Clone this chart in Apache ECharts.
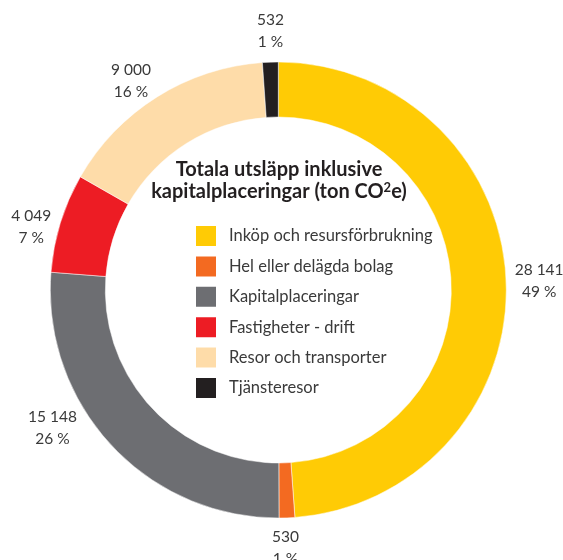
<!DOCTYPE html>
<html><head><meta charset="utf-8">
<script src="https://cdn.jsdelivr.net/npm/echarts@6/dist/echarts.min.js"></script>
<style>html,body{margin:0;padding:0;background:#fff}#c{width:563px;height:560px}</style>
</head><body><div id="c"></div>
<script>
const categories = ['Inköp och resursförbrukning', 'Hel eller delägda bolag', 'Kapitalplaceringar', 'Fastigheter - drift', 'Resor och transporter', 'Tjänsteresor'];
const values = [28141, 530, 15148, 4049, 9000, 532];
const colors = ['#FFCB05', '#F36A21', '#6D6E72', '#ED1C24', '#FEDCA9', '#231F20'];
// label placement tweaks (label line hidden)
const labelLen = [9, 30, -24.5, -13.6, 18.8, 31];
const labelLen2 = [0, -26.6, 52.7, 18.2, -7.9, -25.3];

const fmt = v => String(v).replace(/\B(?=(\d{3})+(?!\d))/g, ' ');
const FONT = 'Lato, "Open Sans", sans-serif';

const chart = echarts.init(document.getElementById('c'), null, {renderer: 'canvas'});
chart.setOption({
  animation: false,
  backgroundColor: '#fff',
  graphic: [{
    type: 'text',
    x: 279, y: 181,
    style: {
      text: '{t|Totala utsläpp inklusive}\n{t|kapitalplaceringar (ton CO}{s|2}{t|e)}',
      align: 'center', verticalAlign: 'middle',
      rich: {
        t: {fontFamily: FONT, fontSize: 20, fontWeight: 'bold', fill: '#231F20', color: '#231F20', lineHeight: 22},
        s: {fontFamily: FONT, fontSize: 13, fontWeight: 'bold', fill: '#231F20', color: '#231F20', lineHeight: 12, verticalAlign: 'top'}
      }
    }
  }],
  legend: {
    orient: 'vertical',
    left: 194, top: 224,
    padding: 0,
    itemWidth: 22, itemHeight: 22, itemGap: 6.4,
    icon: 'rect',
    selectedMode: false,
    textStyle: {fontFamily: FONT, fontSize: 16.5, lineHeight: 18, color: '#3a3a3a', padding: [4, 0, 0, 7]},
    data: categories
  },
  series: [{
    type: 'pie',
    center: [278.3, 290],
    radius: [173, 228],
    startAngle: 90,
    clockwise: true,
    minAngle: 4,
    avoidLabelOverlap: false,
    emphasis: {disabled: true},
    itemStyle: {borderColor: '#fff', borderWidth: 0.5},
    label: {
      show: true,
      position: 'outside',
      distanceToLabelLine: 0,
      formatter: p => '{a|' + fmt(p.value) + '}\n{a|' + Math.round(p.percent) + ' %}',
      rich: {
        a: {width: 48, align: 'center', fontFamily: FONT, fontSize: 15.5, lineHeight: 22, color: '#3a3a3a'}
      }
    },
    labelLine: {show: false},
    data: categories.map((n, i) => ({
      name: n,
      value: values[i],
      itemStyle: {color: colors[i]},
      labelLine: {show: false, length: labelLen[i], length2: labelLen2[i]}
    }))
  }]
});
</script></body></html>
